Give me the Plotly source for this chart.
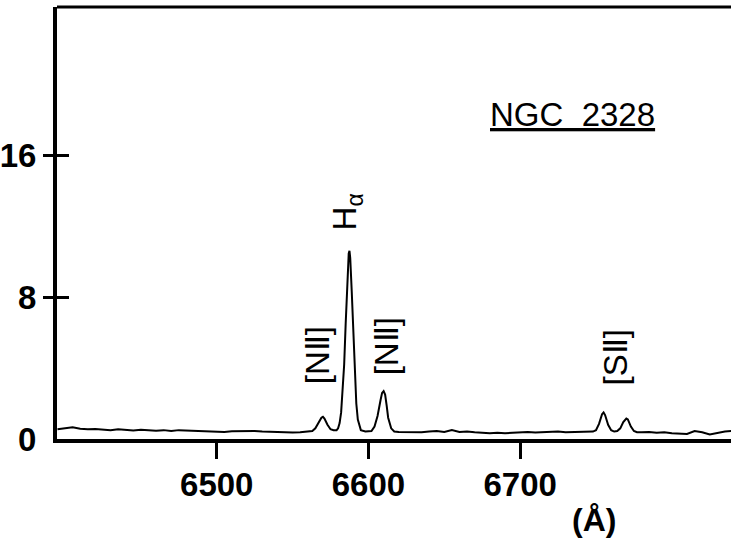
import plotly.graph_objects as go

# Spectrum of NGC 2328: wavelength (Angstrom) and relative flux
wavelength = [
    6395, 6400, 6405, 6410, 6415, 6420, 6425, 6430, 6435, 6440, 6445, 6450, 6455,
    6460, 6465, 6470, 6475, 6480, 6485, 6490, 6495, 6500, 6505, 6510, 6515, 6520,
    6525, 6530, 6535, 6540, 6545, 6550, 6555, 6560, 6563, 6565, 6567, 6569, 6570,
    6571, 6573, 6575, 6577, 6579, 6580, 6581, 6582, 6583, 6584, 6585, 6586, 6587,
    6587.5, 6588, 6589, 6590, 6591, 6592, 6593, 6594, 6595, 6598, 6602, 6604, 6606,
    6608, 6609, 6610, 6611, 6612, 6613, 6615, 6617, 6620, 6625, 6630, 6635, 6640,
    6645, 6650, 6655, 6660, 6665, 6670, 6675, 6680, 6685, 6690, 6695, 6700, 6705,
    6710, 6715, 6720, 6725, 6730, 6735, 6740, 6745, 6748, 6750, 6752, 6754, 6755,
    6756, 6758, 6760, 6762, 6764, 6766, 6768, 6770, 6771, 6773, 6775, 6777, 6780,
    6785, 6790, 6795, 6800, 6805, 6810, 6815, 6820, 6825, 6830, 6835, 6840,
]
flux = [
    0.55, 0.60, 0.66, 0.58, 0.55, 0.57, 0.52, 0.50, 0.55, 0.50, 0.48, 0.52, 0.50,
    0.47, 0.50, 0.45, 0.50, 0.48, 0.44, 0.45, 0.40, 0.42, 0.40, 0.43, 0.45, 0.47,
    0.45, 0.42, 0.40, 0.40, 0.38, 0.37, 0.38, 0.40, 0.45, 0.60, 0.90, 1.20, 1.25,
    1.15, 0.80, 0.55, 0.50, 0.50, 0.60, 0.90, 1.50, 2.60, 4.20, 6.50, 9.00, 10.45,
    10.60, 10.20, 8.30, 5.80, 3.60, 2.00, 1.10, 0.70, 0.50, 0.42, 0.45, 0.70, 1.30,
    2.20, 2.60, 2.70, 2.50, 1.90, 1.20, 0.60, 0.42, 0.40, 0.38, 0.40, 0.38, 0.42,
    0.45, 0.40, 0.50, 0.40, 0.42, 0.38, 0.35, 0.33, 0.35, 0.32, 0.35, 0.38, 0.40,
    0.36, 0.38, 0.40, 0.42, 0.38, 0.40, 0.42, 0.42, 0.42, 0.50, 0.85, 1.40, 1.50,
    1.35, 0.80, 0.50, 0.42, 0.45, 0.60, 0.95, 1.15, 1.10, 0.70, 0.45, 0.38, 0.38,
    0.40, 0.35, 0.38, 0.32, 0.30, 0.28, 0.45, 0.38, 0.25, 0.35, 0.42, 0.45,
]

x_ticks = [6500, 6600, 6700]
y_ticks = [0, 8, 16]
y_marked_ticks = [8, 16]
x_range = [6394.7, 6839.0]
y_range = [0, 24.34]

# line labels: (text, wavelength, flux position)
line_labels = [
    ("H<sub>α</sub>", 6585.6, 12.8),
    ("[NⅡ]", 6566.4, 4.75),
    ("[NⅡ]", 6611.9, 5.25),
    ("[SⅡ]", 6762.6, 4.6),
]
title_text = "NGC\u00a0\u00a02328"
unit_text = "(Å)"

FONT = "Liberation Sans, Arial, sans-serif"

fig = go.Figure()
fig.add_trace(go.Scatter(x=wavelength, y=flux, mode="lines",
                         line=dict(color="black", width=2), showlegend=False,
                         hoverinfo="skip"))

fig.update_layout(
    width=731, height=543,
    margin=dict(l=57, r=0, t=7, b=104, autoexpand=False),
    paper_bgcolor="white", plot_bgcolor="white",
    showlegend=False,
    xaxis=dict(range=x_range, tickvals=x_ticks, ticktext=[str(v) for v in x_ticks],
               ticks="outside", ticklen=16, tickwidth=3, tickcolor="black",
               showline=True, linewidth=4, linecolor="black", showgrid=False,
               zeroline=False, automargin=False,
               tickfont=dict(family=FONT, size=33, color="black", weight="bold"),
               ticklabelstandoff=-3),
    yaxis=dict(range=y_range, tickvals=y_ticks, ticktext=[str(v) for v in y_ticks],
               ticks="", showline=True, linewidth=4, linecolor="black",
               showgrid=False, zeroline=False, automargin=False,
               tickfont=dict(family=FONT, size=33, color="black", weight="bold"),
               ticklabelstandoff=10),
    yaxis2=dict(range=y_range, overlaying="y", tickvals=y_marked_ticks,
                ticks="outside", ticklen=13, tickwidth=3, tickcolor="black",
                showticklabels=False, showline=False, showgrid=False, zeroline=False,
                automargin=False),
    yaxis3=dict(range=y_range, overlaying="y", tickvals=y_marked_ticks,
                ticks="inside", ticklen=12, tickwidth=3, tickcolor="black",
                showticklabels=False, showline=False, showgrid=False, zeroline=False,
                automargin=False),
)
# empty traces so the overlay axes get drawn
fig.add_trace(go.Scatter(x=[], y=[], yaxis="y2", showlegend=False))
fig.add_trace(go.Scatter(x=[], y=[], yaxis="y3", showlegend=False))

# top frame line
fig.add_shape(type="line", xref="paper", yref="paper", x0=0, x1=1, y0=1, y1=1,
              line=dict(color="black", width=3))

for text, wl, fy in line_labels:
    fig.add_annotation(x=wl, y=fy, xref="x", yref="y", text=text, textangle=-90,
                       showarrow=False, xanchor="center", yanchor="middle",
                       font=dict(family=FONT, size=33, color="black"))

fig.add_annotation(x=6734.2, y=18.3, xref="x", yref="y", text=title_text,
                   showarrow=False, xanchor="center", yanchor="middle",
                   font=dict(family=FONT, size=33, color="black", lineposition="under"))

fig.add_annotation(x=6748.4, y=-0.1875, xref="x", yref="paper", text=unit_text,
                   showarrow=False, xanchor="center", yanchor="middle",
                   font=dict(family=FONT, size=32, color="black", weight="bold"))

fig.write_html(
    "out.html",
    config={"displayModeBar": False, "staticPlot": True},
    post_script="document.body.style.margin='0';document.body.style.overflow='hidden';",
)
